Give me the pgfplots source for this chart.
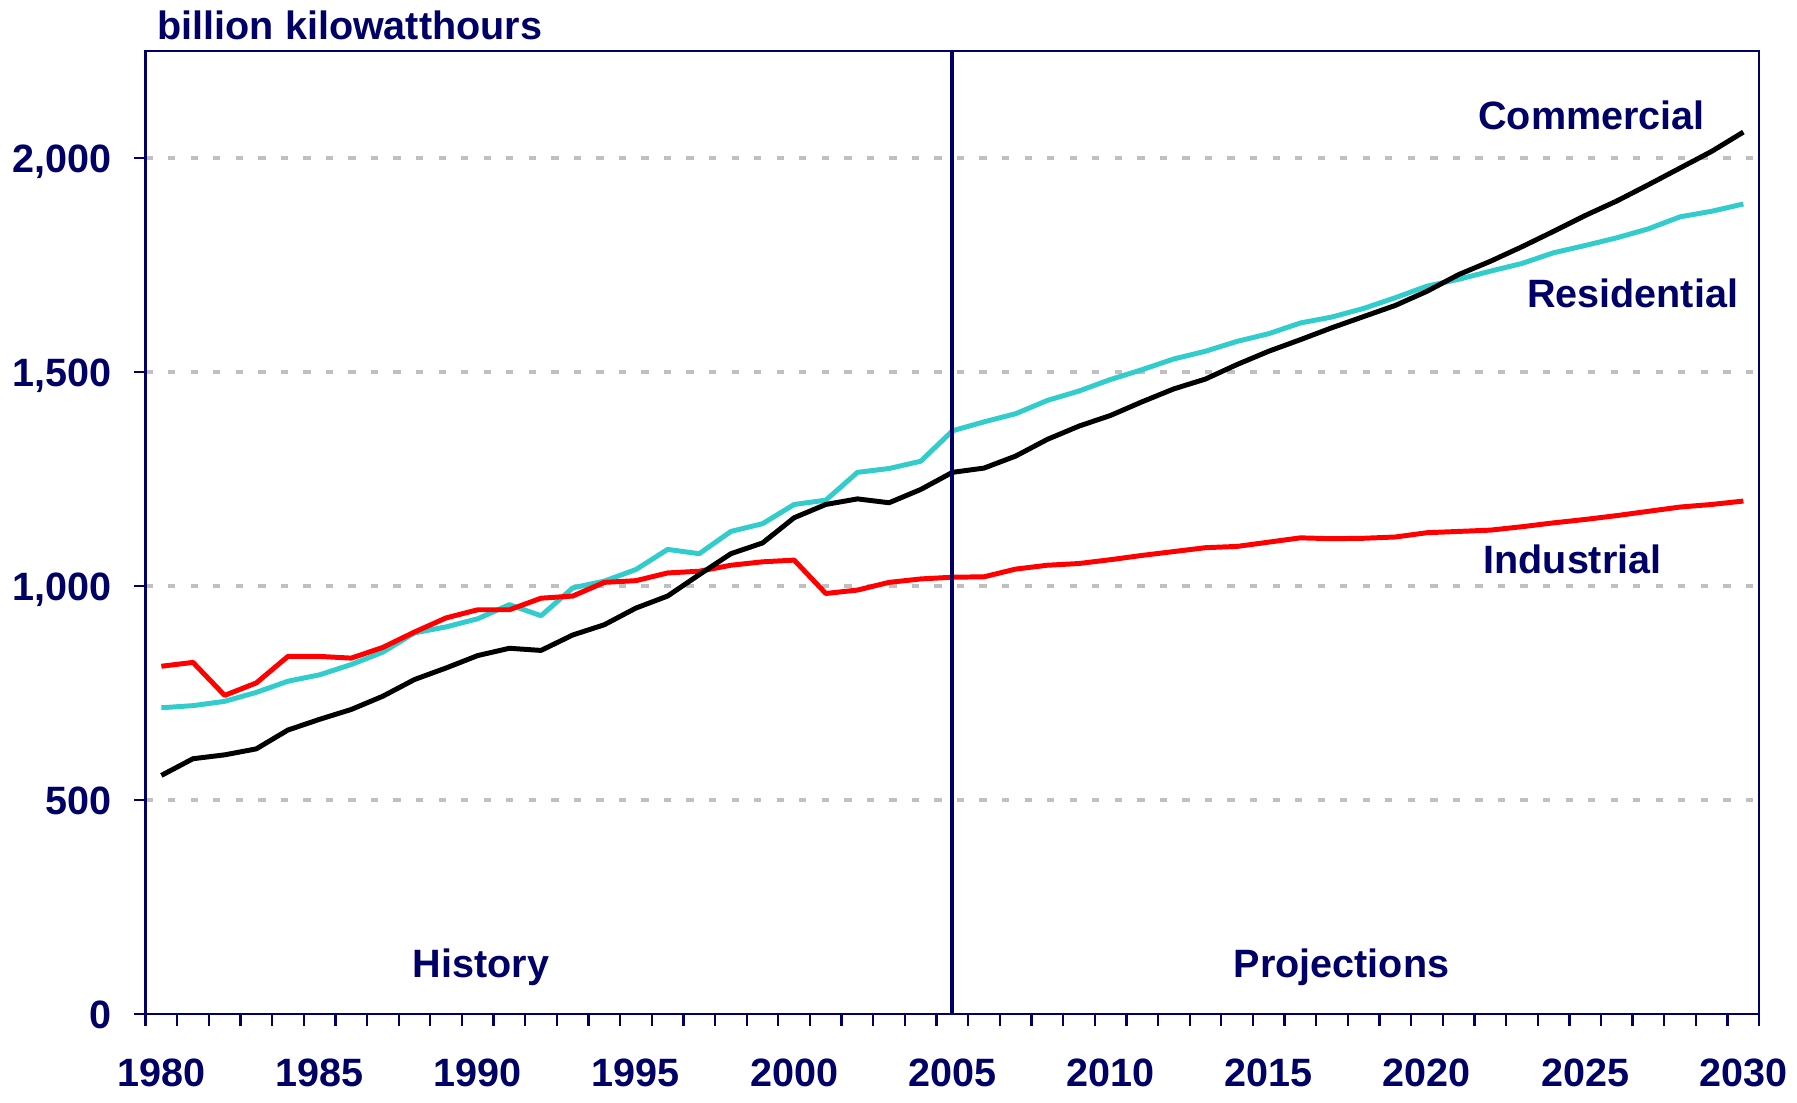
\documentclass[border=0pt]{standalone}
\usepackage{pgfplots}
\pgfplotsset{compat=1.18}
\usepackage{fontspec}
\setmainfont{Liberation Sans}
\definecolor{navy}{RGB}{0,0,102}
\definecolor{turq}{RGB}{51,204,204}
\definecolor{gridgray}{RGB}{192,192,192}
\newcommand{\lblfont}{\fontsize{10.35}{12}\selectfont\bfseries}
\begin{document}
\begin{tikzpicture}
\begin{axis}[
  scale only axis, width=422.4pt, height=252.1pt,
  xmin=1979.5, xmax=2030.5, ymin=0, ymax=2250,
  axis line style={navy, line width=0.6pt},
  xtick={1980,1985,...,2030},
  minor xtick={1979.5,1980.5,...,2030.5},
  ytick={500,1000,1500,2000},
  extra y ticks={0},
  extra y tick style={grid=none},
  xtick pos=bottom, ytick pos=left,
  tick align=outside,
  major tick length=3pt, minor tick length=3pt,
  major x tick style={draw=none},
  minor x tick style={navy, line width=0.6pt},
  y tick style={navy, line width=0.6pt},
  ymajorgrids,
  grid style={gridgray, line width=1pt, dash pattern=on 1.9pt off 4pt},
  tick label style={font=\lblfont, text=navy, /pgf/number format/assume math mode=true},
  x tick label style={/pgf/number format/1000 sep={}, anchor=north, inner sep=0pt, yshift=-8.6pt},
  y tick label style={/pgf/number format/1000 sep={,}, anchor=east, inner sep=0pt, xshift=-5.6pt, text height=7.4pt, text depth=0pt},
  clip=false,
]
% Residential
\addplot[turq, line width=1.3pt, line join=round] coordinates {
(1980,716)(1981,721)(1982,731)(1983,752)(1984,778)(1985,793)(1986,817)(1987,846)(1988,891)(1989,905)
(1990,924)(1991,957)(1992,931)(1993,996)(1994,1012)(1995,1039)(1996,1086)(1997,1076)(1998,1128)(1999,1146)
(2000,1191)(2001,1201)(2002,1266)(2003,1275)(2004,1292)(2005,1363)(2006,1384)(2007,1403)(2008,1434)(2009,1456)
(2010,1483)(2011,1506)(2012,1531)(2013,1549)(2014,1572)(2015,1590)(2016,1615)(2017,1629)(2018,1649)(2019,1674)
(2020,1701)(2021,1717)(2022,1736)(2023,1754)(2024,1779)(2025,1796)(2026,1814)(2027,1835)(2028,1863)(2029,1876)
(2030,1893)};
% Industrial
\addplot[red, line width=1.3pt, line join=round] coordinates {
(1980,813)(1981,822)(1982,745)(1983,774)(1984,836)(1985,836)(1986,832)(1987,857)(1988,893)(1989,926)
(1990,945)(1991,945)(1992,972)(1993,977)(1994,1009)(1995,1013)(1996,1031)(1997,1035)(1998,1049)(1999,1057)
(2000,1061)(2001,983)(2002,991)(2003,1009)(2004,1017)(2005,1021)(2006,1022)(2007,1040)(2008,1049)(2009,1053)
(2010,1062)(2011,1072)(2012,1081)(2013,1090)(2014,1093)(2015,1103)(2016,1113)(2017,1111)(2018,1112)(2019,1115)
(2020,1125)(2021,1128)(2022,1131)(2023,1139)(2024,1148)(2025,1156)(2026,1165)(2027,1175)(2028,1185)(2029,1191)
(2030,1199)};
% Commercial
\addplot[black, line width=1.3pt, line join=round] coordinates {
(1980,558)(1981,597)(1982,606)(1983,620)(1984,664)(1985,689)(1986,712)(1987,743)(1988,782)(1989,809)
(1990,838)(1991,855)(1992,850)(1993,886)(1994,910)(1995,949)(1996,977)(1997,1027)(1998,1076)(1999,1101)
(2000,1160)(2001,1191)(2002,1204)(2003,1195)(2004,1226)(2005,1266)(2006,1276)(2007,1304)(2008,1343)(2009,1374)
(2010,1399)(2011,1431)(2012,1461)(2013,1484)(2014,1518)(2015,1549)(2016,1576)(2017,1604)(2018,1630)(2019,1656)
(2020,1689)(2021,1728)(2022,1759)(2023,1793)(2024,1829)(2025,1866)(2026,1900)(2027,1938)(2028,1977)(2029,2016)
(2030,2061)};
% history / projections divider
\addplot[navy, line width=1pt] coordinates {(2005,0)(2005,2250)};
\node[font=\lblfont, text=navy, anchor=center, inner sep=0pt] at (axis cs:2025.2,2099) {Commercial};
\node[font=\lblfont, text=navy, anchor=center, inner sep=0pt] at (axis cs:2026.5,1684) {Residential};
\node[font=\lblfont, text=navy, anchor=center, inner sep=0pt] at (axis cs:2024.6,1063) {Industrial};
\node[font=\lblfont, text=navy, anchor=base, inner sep=0pt] at (axis cs:1990.1,86) {History};
\node[font=\lblfont, text=navy, anchor=base, inner sep=0pt] at (axis cs:2017.3,86) {Projections};
\node[font=\lblfont, text=navy, anchor=base west, inner sep=0pt] at (axis cs:1979.86,2278) {billion kilowatthours};
\end{axis}
\pgfresetboundingbox
\path[use as bounding box] (-38.1pt,-23.1pt) rectangle (432.3pt,265.5pt);
\end{tikzpicture}
\end{document}
